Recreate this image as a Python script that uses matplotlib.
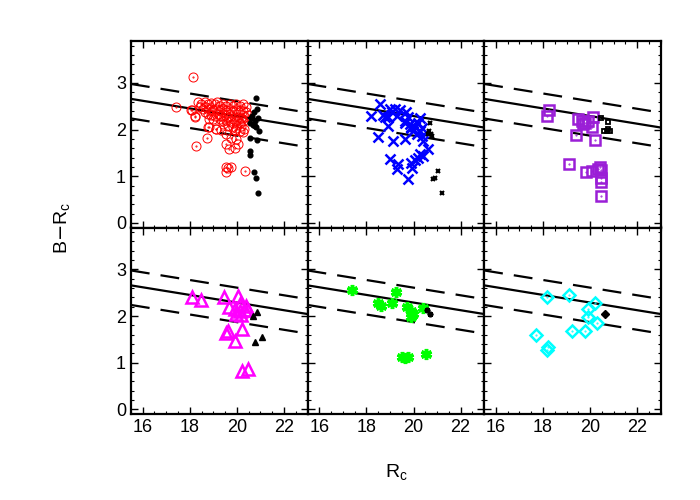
import numpy as np
import matplotlib
matplotlib.use("Agg")
import matplotlib.pyplot as plt
from matplotlib.ticker import MultipleLocator

plt.rcParams['font.family'] = ['Liberation Sans', 'DejaVu Sans']

# colour-magnitude data per panel: (R_c, B-R_c)
red_r = [18.14, 17.41, 18.11, 18.22, 18.28, 18.73, 18.82, 19.13, 19.34, 18.78, 19.55, 19.77,
         19.98, 19.53, 19.91, 19.67, 20.05, 20.26, 19.91, 19.53, 19.77, 19.62, 19.53, 20.33,
         20.23, 18.35, 18.49, 18.64, 18.78, 18.92, 19.06, 19.16, 19.27, 19.41, 19.55, 19.70,
         19.84, 19.98, 20.12, 20.26, 20.40, 18.42, 18.57, 18.71, 18.85, 18.99, 19.13, 19.27,
         19.41, 19.55, 19.70, 19.84, 19.98, 20.12, 20.26, 20.37, 18.07, 18.21, 18.64, 18.78,
         18.92, 19.06, 19.20, 19.34, 19.48, 19.62, 19.77, 19.91, 20.05, 20.19, 20.33, 20.47,
         19.27, 19.41, 19.55, 19.70, 19.84, 19.98, 20.12, 20.26, 19.41, 19.62, 19.84, 19.98,
         20.19, 20.29, 19.13, 18.99, 18.82, 19.91, 20.12]
red_br = [3.13, 2.48, 2.43, 2.28, 1.65, 1.83, 2.06, 2.01, 1.99, 2.06, 1.90, 1.83,
          1.79, 1.69, 1.60, 1.58, 1.69, 1.94, 1.99, 1.20, 1.20, 1.17, 1.10, 1.11,
          2.23, 2.59, 2.55, 2.59, 2.55, 2.57, 2.54, 2.59, 2.51, 2.55, 2.51, 2.54,
          2.51, 2.55, 2.51, 2.54, 2.48, 2.48, 2.44, 2.48, 2.44, 2.41, 2.44, 2.41,
          2.44, 2.41, 2.42, 2.39, 2.41, 2.42, 2.39, 2.37, 2.41, 2.30, 2.37, 2.33,
          2.32, 2.30, 2.33, 2.30, 2.32, 2.28, 2.30, 2.26, 2.28, 2.25, 2.28, 2.32,
          2.23, 2.19, 2.21, 2.18, 2.15, 2.19, 2.15, 2.19, 2.12, 2.08, 2.06, 2.03,
          2.08, 2.01, 2.01, 2.23, 2.23, 1.99, 1.97]
blk1_r = [20.80, 20.85, 20.71, 20.64, 20.89, 20.75, 20.54, 20.83, 20.94, 20.78, 20.54, 20.85,
          20.54, 20.57, 20.71, 20.80, 20.90, 20.60, 20.70]
blk1_br = [2.67, 2.44, 2.37, 2.30, 2.24, 2.19, 2.15, 2.05, 1.97, 2.08, 1.81, 1.78,
           1.54, 1.45, 1.09, 0.97, 0.63, 2.25, 2.10]

blue_r = [18.57, 18.19, 18.78, 19.00, 19.10, 19.21, 19.42, 19.28, 18.93, 18.90, 18.71, 19.70,
          19.77, 19.63, 19.84, 19.91, 20.05, 20.20, 20.27, 20.34, 20.27, 20.34, 20.13, 19.89,
          19.98, 19.63, 19.14, 18.50, 20.41, 20.62, 20.41, 20.20, 20.05, 20.27, 19.91, 19.00,
          19.35, 19.32, 19.77, 19.94, 19.63]
blue_br = [2.54, 2.30, 2.26, 2.44, 2.37, 2.44, 2.41, 2.30, 2.08, 2.28, 2.32, 2.37,
           2.26, 2.15, 2.12, 2.03, 2.05, 2.15, 2.25, 2.03, 1.96, 1.87, 1.90, 2.05,
           1.97, 1.79, 1.76, 1.85, 1.76, 1.58, 1.43, 1.40, 1.34, 1.47, 1.29, 1.36,
           1.27, 1.15, 0.93, 1.18, 2.19]
blk2_r = [20.69, 20.65, 20.73, 20.79, 20.62, 21.04, 20.90, 20.83, 21.19]
blk2_br = [2.15, 1.96, 1.90, 1.87, 1.90, 1.11, 0.97, 0.93, 0.64]

purp_r = [18.27, 18.15, 19.47, 19.64, 19.78, 19.92, 20.13, 20.06, 19.71, 19.40, 20.20, 19.12,
          19.82, 20.06, 20.41, 20.48, 20.44, 20.46, 20.48, 20.34]
purp_br = [2.41, 2.30, 2.23, 2.19, 2.15, 2.19, 2.28, 2.06, 2.12, 1.88, 1.78, 1.27,
           1.10, 1.11, 1.20, 1.13, 0.97, 0.87, 0.57, 1.15]
blk3_r = [20.48, 20.74, 20.70, 20.84, 20.58, 20.77]
blk3_br = [2.25, 2.17, 1.96, 1.96, 1.96, 2.01]

mag_r = [18.11, 18.49, 19.44, 20.05, 19.67, 19.91, 20.12, 19.98, 20.19, 20.37, 20.47, 20.23,
         19.55, 19.62, 19.91, 20.23, 20.47, 20.33, 20.12]
mag_br = [2.40, 2.34, 2.41, 2.44, 2.20, 2.15, 2.10, 2.04, 2.02, 2.22, 2.13, 1.72,
          1.64, 1.67, 1.46, 0.82, 0.87, 2.13, 2.26]
blk4_r = [20.68, 20.85, 20.75, 21.08]
blk4_br = [2.00, 2.08, 1.45, 1.55]

green_r = [17.40, 19.24, 18.50, 18.64, 19.07, 19.74, 19.91, 19.91, 19.98, 20.41, 19.49, 19.77,
           19.63, 20.52]
green_br = [2.56, 2.52, 2.29, 2.22, 2.28, 2.20, 2.10, 1.98, 2.04, 2.17, 1.12, 1.13,
            1.10, 1.19]
blk5_r = [20.59, 20.72]
blk5_br = [2.13, 2.05]

cyan_r = [18.15, 19.09, 20.20, 19.89, 19.89, 20.30, 19.21, 19.79, 17.69, 18.23, 18.18]
cyan_br = [2.40, 2.46, 2.28, 2.15, 1.98, 1.86, 1.68, 1.67, 1.59, 1.33, 1.28]
blk6_r = [20.63]
blk6_br = [2.04]

# fitted red sequence and its envelope
fit_zero, fit_slope = 2.29, -0.082
env_up, env_lo = 0.32, -0.42

asterisk = (6, 2, 0)

panels = [
    (red_r, red_br, dict(marker='o', ms=6.5, mfc='none', mec='red', mew=0.7), True,
     blk1_r, blk1_br, dict(marker='o', ms=3.4, color='k')),
    (blue_r, blue_br, dict(marker='x', ms=7.5, color='blue', mew=1.8), False,
     blk2_r, blk2_br, dict(marker='x', ms=3.5, color='k', mew=1.5)),
    (purp_r, purp_br, dict(marker='s', ms=7.0, mfc='none', mec='#9a1fd6', mew=1.8), True,
     blk3_r, blk3_br, dict(marker='s', ms=3.5, mfc='none', mec='k', mew=1.3)),
    (mag_r, mag_br, dict(marker='^', ms=8.0, mfc='none', mec='magenta', mew=1.8), False,
     blk4_r, blk4_br, dict(marker='^', ms=5.0, color='k')),
    (green_r, green_br, dict(marker=asterisk, ms=8.0, color='#00ff00', mew=2.5), False,
     blk5_r, blk5_br, dict(marker=asterisk, ms=4.0, color='k', mew=1.8)),
    (cyan_r, cyan_br, dict(marker='D', ms=6.0, mfc='none', mec='cyan', mew=1.8), True,
     blk6_r, blk6_br, dict(marker='D', ms=3.8, color='k')),
]

fig, axes = plt.subplots(2, 3, figsize=(7, 5), dpi=100, sharex=True, sharey=True)
fig.subplots_adjust(left=0.187, right=0.944, bottom=0.172, top=0.918, wspace=0, hspace=0)

xfit = np.array([15.5, 23.0])
yfit = fit_zero + fit_slope * (xfit - 20)

for ax, (xr, yr, st, cdot, bx, by, bst) in zip(axes.flat, panels):
    ax.plot(xfit, yfit, color='k', lw=1.6)
    ax.plot(xfit, yfit + env_up, color='k', lw=1.6, ls=(0, (8.5, 5)))
    ax.plot(xfit, yfit + env_lo, color='k', lw=1.6, ls=(0, (8.5, 5)))
    ax.plot(xr, yr, ls='none', **st)
    if cdot:
        ax.plot(xr, yr, ls='none', marker='.', ms=1.0, color=st['mec'])
    ax.plot(bx, by, ls='none', **bst)

    ax.set_xlim(15.5, 23.0)
    ax.set_ylim(-0.1, 3.9)
    ax.xaxis.set_major_locator(MultipleLocator(2))
    ax.xaxis.set_minor_locator(MultipleLocator(0.5))
    ax.yaxis.set_major_locator(MultipleLocator(1))
    ax.yaxis.set_minor_locator(MultipleLocator(0.2))
    ax.tick_params(which='both', direction='in', top=True, right=True, labelsize=13)
    ax.tick_params(which='major', length=5, width=1)
    ax.tick_params(which='minor', length=2, width=0.8)
    for sp in ax.spines.values():
        sp.set_linewidth(1.6)

for ax in axes[:, 1:].flat:
    ax.tick_params(labelleft=False)
for ax in axes[0, :]:
    ax.tick_params(labelbottom=False)

fig.text(0.566, 0.055, r'R$_\mathregular{c}$', ha='center', va='center', fontsize=14)
fig.text(0.09, 0.545, r'B$-$R$_\mathregular{c}$', ha='center', va='center', fontsize=14,
         rotation=90)

fig.savefig('out.png', dpi=100)
